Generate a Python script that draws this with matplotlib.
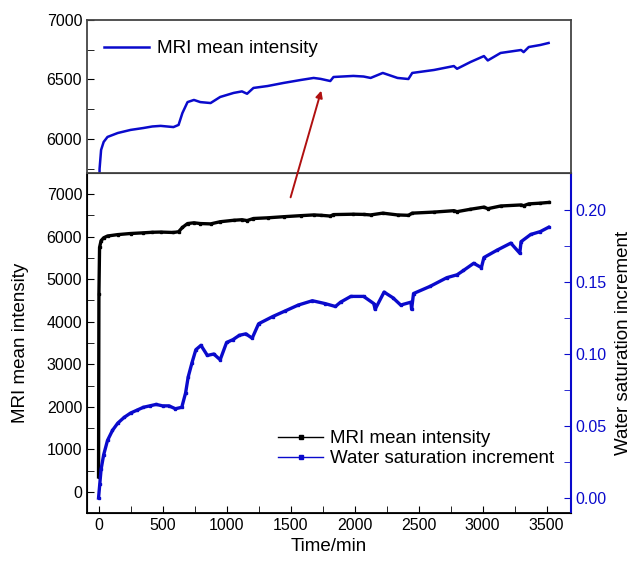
import matplotlib
matplotlib.use("Agg")
import matplotlib.pyplot as plt

plt.rcParams['font.family'] = ['Liberation Sans', 'DejaVu Sans']

# MRI mean intensity vs time (min)
mri_t = [0, 3, 8, 20, 40, 70, 150, 250, 350, 420, 485, 585, 625, 655, 695,
         745, 795, 875, 950, 1055, 1120, 1160, 1210, 1320, 1445, 1580, 1680,
         1735, 1810, 1835, 1990, 2070, 2125, 2220, 2335, 2420, 2450, 2620,
         2775, 2800, 2905, 3010, 3040, 3140, 3300, 3320, 3360, 3450, 3515]
mri_val = [350, 4660, 5748, 5908, 5975, 6017, 6050, 6076, 6092, 6105, 6110,
           6100, 6118, 6218, 6310, 6328, 6310, 6302, 6353, 6387, 6400, 6380,
           6429, 6445, 6471, 6496, 6513, 6505, 6487, 6521, 6530, 6525, 6513,
           6555, 6513, 6504, 6555, 6580, 6613, 6590, 6647, 6697, 6660, 6723,
           6748, 6730, 6773, 6790, 6807]

# water saturation increment vs time (min)
sat_t = [0, 10, 20, 40, 70, 109, 150, 200, 250, 300, 350, 400, 450, 500, 550,
         600, 650, 680, 700, 730, 760, 800, 850, 900, 950, 1000, 1050, 1100,
         1150, 1200, 1250, 1360, 1460, 1560, 1670, 1770, 1850, 1890, 1970,
         2070, 2150, 2160, 2230, 2300, 2360, 2440, 2445, 2460, 2590, 2720,
         2800, 2850, 2930, 2990, 3010, 3110, 3220, 3290, 3300, 3375, 3450, 3515]
sat_val = [0.000, 0.010, 0.020, 0.030, 0.040, 0.047, 0.052, 0.056, 0.059,
           0.061, 0.063, 0.064, 0.065, 0.064, 0.064, 0.062, 0.063, 0.073,
           0.084, 0.094, 0.103, 0.106, 0.099, 0.100, 0.096, 0.108, 0.110,
           0.113, 0.114, 0.111, 0.121, 0.126, 0.130, 0.134, 0.137, 0.135,
           0.133, 0.136, 0.140, 0.140, 0.135, 0.131, 0.143, 0.139, 0.134,
           0.136, 0.131, 0.142, 0.147, 0.153, 0.155, 0.158, 0.163, 0.160,
           0.167, 0.172, 0.177, 0.170, 0.178, 0.183, 0.185, 0.188]

blue = "#0a0acc"
tick_fs = 11.5
label_fs = 13.5

fig = plt.figure(figsize=(6.37, 5.64), dpi=100)

# main axes
ax = fig.add_axes([0.1366, 0.0904, 0.7598, 0.6029])
ax.plot(mri_t, mri_val, color="black", lw=2.4, marker="s", ms=1.8,
        label="MRI mean intensity")
ax.set_xlim(-90, 3690)
ax.set_ylim(-500, 7500)
ax.set_xticks(range(0, 3501, 500))
ax.set_xticks(range(250, 3600, 500), minor=True)
ax.set_yticks(range(0, 7001, 1000))
ax.set_yticks(range(500, 7001, 1000), minor=True)
ax.tick_params(which="both", direction="in", labelsize=tick_fs, length=5)
ax.set_xlabel("Time/min", fontsize=label_fs, labelpad=4)
ax.set_ylabel("MRI mean intensity", fontsize=label_fs)
ax.yaxis.set_label_coords(-0.12, 0.5)

ax2 = ax.twinx()
ax2.plot(sat_t, sat_val, color=blue, lw=2.4, marker="s", ms=1.8,
         label="Water saturation increment")
ax2.set_ylim(-0.0104, 0.2257)
ax2.set_yticks([0.00, 0.05, 0.10, 0.15, 0.20])
ax2.set_yticks([0.025, 0.075, 0.125, 0.175], minor=True)
ax2.set_yticklabels(["0.00", "0.05", "0.10", "0.15", "0.20"])
ax2.tick_params(which="both", direction="in", labelsize=tick_fs, length=5,
                colors=blue)
ax2.spines["right"].set_color(blue)
ax2.spines["right"].set_linewidth(1.5)
ax2.set_ylabel("Water saturation increment", fontsize=label_fs, labelpad=6)

# legend for main panel
h1, l1 = ax.get_legend_handles_labels()
h2, l2 = ax2.get_legend_handles_labels()
leg = ax2.legend(h1 + h2, l1 + l2, loc="lower right", frameon=False,
                 fontsize=13.5, bbox_to_anchor=(1.0, 0.085), handlelength=2.4,
                 handletextpad=0.35, labelspacing=0.15)
for line in leg.get_lines():
    line.set_linewidth(1.0)
    line.set_markersize(2.5)

for s in ax.spines.values():
    s.set_linewidth(1.3)

# inset panel on top
axi = fig.add_axes([0.1366, 0.6933, 0.7598, 0.2712])
axi.plot(mri_t, mri_val, color=blue, lw=1.8, label="MRI mean intensity")
axi.set_xlim(-90, 3690)
axi.set_ylim(5714, 7000)
axi.set_xticks([])
axi.set_yticks([6000, 6500, 7000])
axi.set_yticks([5750, 6250, 6750], minor=True)
axi.tick_params(which="both", direction="in", labelsize=tick_fs, length=5)
for s in axi.spines.values():
    s.set_linewidth(1.3)
    s.set_color("#444444")
axi.legend(loc="upper left", frameon=False, fontsize=13.6, handlelength=2.4,
           handletextpad=0.4, bbox_to_anchor=(0.0, 0.98))

# red arrow linking the panels
fig.patches.append(matplotlib.patches.FancyArrowPatch(
    (0.455, 0.6454), (0.5055, 0.844), transform=fig.transFigure,
    arrowstyle="-|>", mutation_scale=10, color="#b01010", lw=1.4))

fig.savefig("out.png", dpi=100)
